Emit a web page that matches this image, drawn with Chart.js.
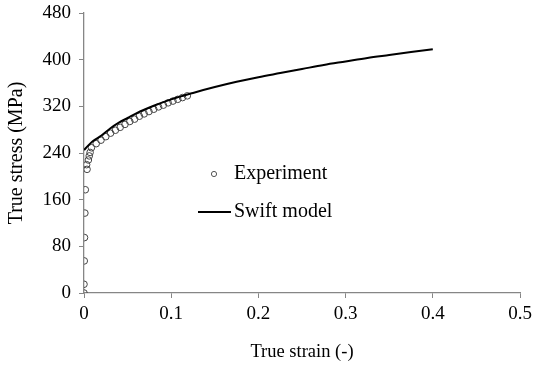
<!DOCTYPE html>
<html>
<head>
<meta charset="utf-8">
<script src="https://cdn.jsdelivr.net/npm/chart.js@4.4.0/dist/chart.umd.min.js"></script>
<style>
  html, body { margin: 0; padding: 0; background: #fff; }
  #wrap { width: 538px; height: 370px; }
</style>
</head>
<body>
<div id="wrap"><canvas id="c" width="538" height="370"></canvas></div>
<script>
// ---- data ----
const expStrain = [0, 0, 0.0003, 0.0006, 0.001, 0.0015, 0.0035, 0.003, 0.005, 0.006, 0.007,
  0.0085, 0.014, 0.0195, 0.025, 0.0305, 0.036, 0.0415, 0.047, 0.0525, 0.058, 0.0635,
  0.069, 0.0745, 0.08, 0.0855, 0.091, 0.0965, 0.102, 0.1075, 0.113, 0.1185];
const expStress = [0, 15, 55, 95, 137, 177, 212, 220, 228, 235, 241,
  249, 256, 262, 268, 274, 279, 284, 289, 294, 298, 303,
  307, 311, 315, 319, 322, 326, 329, 332, 335, 338];

const swiftStrain = [0, 0.005, 0.01, 0.02, 0.03, 0.04, 0.05, 0.06, 0.08, 0.1, 0.125, 0.15, 0.175, 0.2,
  0.225, 0.25, 0.275, 0.3, 0.325, 0.35, 0.375, 0.4];
const swiftStress = [245, 253, 260, 270, 282, 292, 300, 308, 321, 332, 343, 353, 362, 370,
  377, 384, 391, 397, 403, 408, 413, 418];

const xTicks = [0, 0.1, 0.2, 0.3, 0.4, 0.5];
const yTicks = [0, 80, 160, 240, 320, 400, 480];

const seriesNames = ['Experiment', 'Swift model'];
const axisTitles = { x: 'True strain (-)', y: 'True stress (MPa)' };

// ---- chart ----
const FONT = '"Liberation Serif", "Times New Roman", serif';
const AXIS_COLOR = '#868686';

const expData = expStrain.map((x, i) => ({ x: x, y: expStress[i] }));
const swiftData = swiftStrain.map((x, i) => ({ x: x, y: swiftStress[i] }));

const legendPlugin = {
  id: 'inPlotLegend',
  afterDraw(chart) {
    const ctx = chart.ctx;
    ctx.save();
    ctx.font = '20px ' + FONT;
    ctx.fillStyle = '#000';
    ctx.textBaseline = 'middle';
    ctx.textAlign = 'left';
    // Experiment marker
    ctx.beginPath();
    ctx.arc(214, 174, 2.6, 0, Math.PI * 2);
    ctx.strokeStyle = '#555';
    ctx.lineWidth = 1;
    ctx.stroke();
    ctx.fillText(chart.data.datasets[1].label, 234, 174);
    // Swift model line
    ctx.beginPath();
    ctx.moveTo(198, 212);
    ctx.lineTo(231, 212);
    ctx.strokeStyle = '#000';
    ctx.lineWidth = 2;
    ctx.stroke();
    ctx.fillText(chart.data.datasets[0].label, 234, 212);
    ctx.restore();
  }
};

new Chart(document.getElementById('c'), {
  type: 'scatter',
  data: {
    datasets: [
      {
        label: seriesNames[1],
        data: swiftData,
        showLine: true,
        borderColor: '#000',
        borderWidth: 2,
        pointRadius: 0,
        cubicInterpolationMode: 'monotone',
        fill: false,
        order: 0
      },
      {
        label: seriesNames[0],
        data: expData,
        showLine: false,
        pointStyle: 'circle',
        pointRadius: 3.3,
        pointBorderWidth: 1,
        pointBorderColor: '#444',
        pointBackgroundColor: 'rgba(255,255,255,0)',
        order: 1
      }
    ]
  },
  options: {
    responsive: false,
    animation: false,
    devicePixelRatio: 1,
    layout: { padding: { top: 13, right: 18, left: 0, bottom: 0 } },
    plugins: {
      legend: { display: false },
      tooltip: { enabled: false }
    },
    scales: {
      x: {
        type: 'linear',
        min: 0, max: 0.5,
        afterBuildTicks(scale) { scale.ticks = xTicks.map(v => ({ value: v })); },
        afterFit(scale) { scale.height = 77; scale.paddingLeft = 0; scale.paddingRight = 0; },
        ticks: {
          color: '#000',
          font: { family: FONT, size: 19 },
          padding: 5,
          maxRotation: 0,
          callback: v => String(v)
        },
        grid: { display: true, drawOnChartArea: false, drawTicks: true, tickLength: 5, color: AXIS_COLOR, lineWidth: 1 },
        border: { display: true, color: AXIS_COLOR, width: 1.3 },
        title: {
          display: true, text: axisTitles.x, color: '#000',
          font: { family: FONT, size: 18.5 },
          padding: { top: 0, bottom: 7 }
        }
      },
      y: {
        type: 'linear',
        min: 0, max: 480,
        afterBuildTicks(scale) { scale.ticks = yTicks.map(v => ({ value: v })); },
        afterFit(scale) { scale.width = 84; scale.paddingTop = 0; scale.paddingBottom = 0; },
        ticks: {
          color: '#000',
          font: { family: FONT, size: 19 },
          padding: 8,
          callback: v => String(v)
        },
        grid: { display: true, drawOnChartArea: false, drawTicks: true, tickLength: 5, color: AXIS_COLOR, lineWidth: 1 },
        border: { display: true, color: AXIS_COLOR, width: 1.3 },
        title: {
          display: true, text: axisTitles.y, color: '#000',
          font: { family: FONT, size: 20 },
          padding: { top: 5, bottom: 0 }
        }
      }
    }
  },
  plugins: [legendPlugin]
});
</script>
</body>
</html>
